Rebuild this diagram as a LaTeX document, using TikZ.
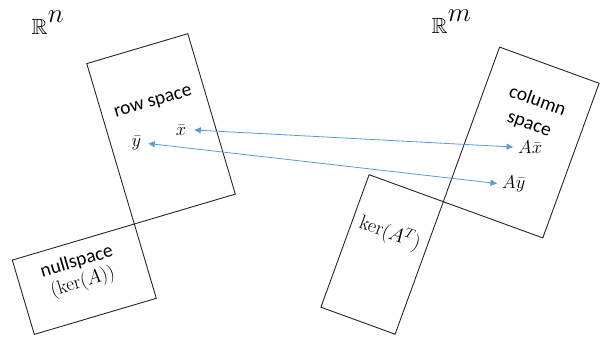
\RequirePackage{fix-cm}
\documentclass[tikz,border=0pt]{standalone}
\usepackage{amssymb}
\usepackage[no-math]{fontspec}
\setmainfont{Carlito}
\usetikzlibrary{arrows.meta}
\definecolor{arrowblue}{HTML}{5B9BD5}
% an ambient space R^k with a large exponent
\newcommand{\ambient}[1]{$\mathbb{R}$\kern0.3pt\raisebox{12.5pt}{\fontsize{27}{27}\selectfont$#1$}}
\begin{document}
\begin{tikzpicture}[x=1pt,y=-1pt,
  subspace/.style={draw=black!85, line width=0.9pt},
  lbl/.style={font=\fontsize{19.5}{21}\selectfont, align=center, inner sep=0pt},
  vec/.style={font=\fontsize{18.5}{22}\selectfont, inner ysep=2pt, inner xsep=5pt},
  map/.style={draw=arrowblue, line width=0.8pt,
    {Triangle[length=6.5pt,width=6pt]}-{Triangle[length=6.5pt,width=6pt]}},
  space label/.style={font=\fontsize{22}{26}\selectfont, inner sep=0pt}]
\useasboundingbox (0,0) rectangle (600,337);

% domain: row space and nullspace meet at one corner
\coordinate (o1) at (134.3,224);
\coordinate (r1) at (86.8,63.6);
\coordinate (r2) at (187.8,33.7);
\coordinate (r3) at (235.3,194.1);
\coordinate (n1) at (12.3,260.1);
\coordinate (n3) at (156.3,298.3);
\coordinate (n4) at (34.3,334.4);
\draw[subspace] (r1) -- (r2) -- (r3) -- (o1) -- cycle;
\draw[subspace] (n1) -- (o1) -- (n3) -- (n4) -- cycle;

% codomain: column space and left nullspace
\coordinate (o2) at (443.3,201.7);
\coordinate (c1) at (499.6,47.1);
\coordinate (c2) at (599.1,83.3);
\coordinate (c3) at (542.8,237.9);
\coordinate (k1) at (369.1,174.7);
\coordinate (k3) at (395.1,334.2);
\coordinate (k4) at (320.9,307.2);
\draw[subspace] (c1) -- (c2) -- (c3) -- (o2) -- cycle;
\draw[subspace] (k1) -- (o2) -- (k3) -- (k4) -- cycle;

% ambient spaces
\node[space label, anchor=base west] (rn) at (31.5,35) {\ambient{n}};
\node[space label, anchor=base west] (rm) at (431.5,34) {\ambient{m}};

% subspace names, turned with their boxes
\node[lbl, rotate=16.5] (rowlbl) at (153.3,103.3) {row space};
\node[lbl, rotate=16.5] (nulllbl) at (80,272.5) {nullspace\\$(\ker(A))$};
\node[lbl, rotate=-20, font=\fontsize{19.5}{24}\selectfont] (collbl) at (533.3,112.6) {column\\space};
\node[lbl, rotate=-20, font=\fontsize{20}{22}\selectfont] (kerlbl) at (390,233) {$\ker(A^T)$};

% vectors and their images
\node[vec, anchor=east, inner xsep=8pt] (xb) at (194.3,130) {$\bar{x}$};
\node[vec, anchor=east, inner xsep=7pt] (yb) at (148.3,143.5) {$\bar{y}$};
\node[vec, anchor=west] (axb) at (513,147) {$A\bar{x}$};
\node[vec, anchor=west] (ayb) at (497,183.5) {$A\bar{y}$};
\draw[map] (xb.east) -- (axb.west);
\draw[map] (yb.east) -- (ayb.west);
\end{tikzpicture}
\end{document}
